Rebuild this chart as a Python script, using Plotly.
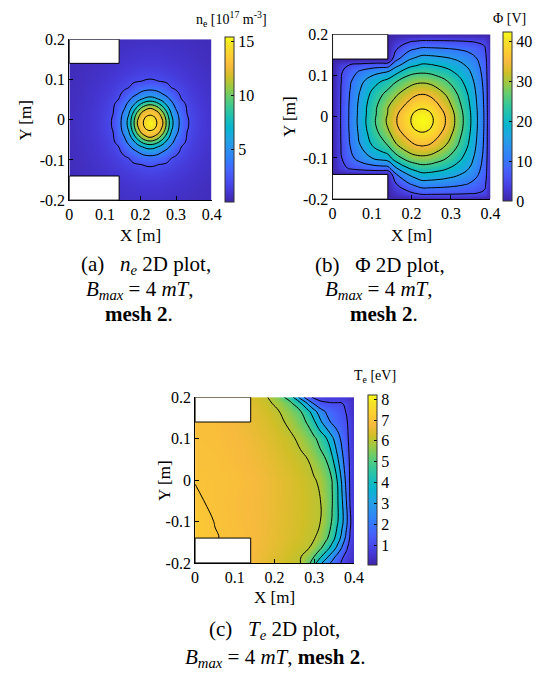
import plotly.graph_objects as go

# ---------------- data ----------------
# (a) electron density n_e [1e17 m^-3]; rows are named by their distance
#     from the density peak (same reading reused above and below the peak)
NE_X = [0, 0.037, 0.077, 0.107, 0.123, 0.139, 0.155, 0.167, 0.179, 0.191, 0.203, 0.215, 0.227,
        0.239, 0.251, 0.263, 0.275, 0.287, 0.299, 0.315, 0.331, 0.347, 0.377, 0.4]
NE_Y = [-0.2, -0.158, -0.128, -0.112, -0.096, -0.08, -0.068, -0.056, -0.044, -0.032, -0.02, -0.008,
        0.004, 0.016, 0.028, 0.04, 0.052, 0.064, 0.08, 0.096, 0.112, 0.142, 0.2]
NE_R000 = [0.61, 0.79, 1.13, 1.65, 2.15, 3.38, 4.94, 6.67, 9.33, 12.02, 13.6, 14.6, 15.4, 14.6, 13.6, 12.02, 9.33, 6.67, 4.94, 3.38, 2.15, 1.65, 1.13, 0.91]
NE_R012 = [0.61, 0.79, 1.13, 1.64, 2.1, 3.32, 4.83, 6.4, 9.0, 11.57, 13.22, 14.27, 14.6, 14.27, 13.22, 11.57, 9.0, 6.4, 4.83, 3.32, 2.1, 1.64, 1.13, 0.91]
NE_R024 = [0.61, 0.78, 1.11, 1.59, 1.98, 3.14, 4.48, 5.81, 8.07, 10.38, 12.27, 13.22, 13.6, 13.22, 12.27, 10.38, 8.07, 5.81, 4.48, 3.14, 1.98, 1.59, 1.11, 0.9]
NE_R036 = [0.6, 0.77, 1.08, 1.52, 1.9, 2.84, 3.96, 5.18, 6.67, 8.69, 10.38, 11.57, 12.02, 11.57, 10.38, 8.69, 6.67, 5.18, 3.96, 2.84, 1.9, 1.52, 1.08, 0.88]
NE_R048 = [0.59, 0.75, 1.03, 1.42, 1.79, 2.44, 3.5, 4.37, 5.43, 6.67, 8.07, 9.0, 9.33, 9.0, 8.07, 6.67, 5.43, 4.37, 3.5, 2.44, 1.79, 1.42, 1.03, 0.86]
NE_R060 = [0.58, 0.73, 0.99, 1.34, 1.65, 1.99, 2.94, 3.63, 4.37, 5.18, 5.81, 6.4, 6.67, 6.4, 5.81, 5.18, 4.37, 3.63, 2.94, 1.99, 1.65, 1.34, 0.99, 0.84]
NE_R072 = [0.57, 0.71, 0.96, 1.27, 1.49, 1.81, 2.32, 2.94, 3.5, 3.96, 4.48, 4.83, 4.94, 4.83, 4.48, 3.96, 3.5, 2.94, 2.32, 1.81, 1.49, 1.27, 0.96, 0.81]
NE_R088 = [0.55, 0.68, 0.9, 1.15, 1.32, 1.54, 1.81, 1.99, 2.44, 2.84, 3.14, 3.32, 3.38, 3.32, 3.14, 2.84, 2.44, 1.99, 1.81, 1.54, 1.32, 1.15, 0.9, 0.76]
NE_R104 = [0.52, 0.65, 0.84, 1.02, 1.17, 1.32, 1.49, 1.65, 1.79, 1.9, 1.98, 2.1, 2.15, 2.1, 1.98, 1.9, 1.79, 1.65, 1.49, 1.32, 1.17, 1.02, 0.84, 0.71]
NE_R120 = [0.5, 0.62, 0.78, 0.93, 1.02, 1.15, 1.27, 1.34, 1.42, 1.52, 1.59, 1.64, 1.65, 1.64, 1.59, 1.52, 1.42, 1.34, 1.27, 1.15, 1.02, 0.93, 0.78, 0.68]
NE_R150 = [0.46, 0.55, 0.67, 0.78, 0.84, 0.9, 0.96, 0.99, 1.03, 1.08, 1.11, 1.13, 1.13, 1.13, 1.11, 1.08, 1.03, 0.99, 0.96, 0.9, 0.84, 0.78, 0.67, 0.6]
NE_R192 = [0.39, 0.46, 0.55, 0.61, 0.65, 0.68, 0.7, 0.72, 0.73, 0.75, 0.77, 0.77, 0.78, 0.77, 0.77, 0.75, 0.73, 0.72, 0.7, 0.68, 0.65, 0.61, 0.55, 0.5]
NE_R208 = [0.37, 0.43, 0.5, 0.56, 0.59, 0.62, 0.64, 0.65, 0.67, 0.68, 0.68, 0.69, 0.69, 0.69, 0.68, 0.68, 0.67, 0.65, 0.64, 0.62, 0.59, 0.56, 0.5, 0.46]
NE_Z = [NE_R192, NE_R150, NE_R120, NE_R104, NE_R088, NE_R072, NE_R060, NE_R048, NE_R036, NE_R024, NE_R012,
        NE_R000,
        NE_R012, NE_R024, NE_R036, NE_R048, NE_R060, NE_R072, NE_R088, NE_R104, NE_R120, NE_R150, NE_R208]
NE_RANGE = [0.1, 15.4]
NE_CB_TICKS = [5, 10, 15]
NE_LEVELS = [2, 14, 2]

# (b) plasma potential Phi [V]
PHI_X = [0, 0.02, 0.045, 0.07, 0.1, 0.125, 0.14, 0.16, 0.195, 0.211, 0.227, 0.243, 0.26, 0.29, 0.32, 0.345, 0.365, 0.385, 0.4]
PHI_Y = [-0.2, -0.185, -0.165, -0.14, -0.125, -0.1, -0.07, -0.04, -0.025, -0.009, 0.007, 0.022, 0.055, 0.085, 0.11, 0.125, 0.14, 0.165, 0.185, 0.2]
PHI_Z = [
    [0, 0, 0, 0, 0, 0, 0, 0, 0, 0, 0, 0, 0, 0, 0, 0, 0, 0, 0],
    [0, 0, 0, 0, 0, 0, 0, 1.98, 4.17, 5.39, 6.5, 6.49, 6.43, 6.28, 6.02, 5.67, 5.15, 4.25, 0],
    [0, 0, 0, 0, 0, 0, 0, 4.4, 9.36, 10.86, 12.2, 12.14, 11.95, 11.44, 10.59, 9.56, 8.17, 6.11, 0],
    [0, 0, 0, 0, 0, 0, 0, 9.5, 15.6, 17.38, 18.9, 18.77, 18.32, 17.14, 15.31, 13.25, 10.72, 7.43, 0],
    [0, 3.43, 5.61, 6.81, 7.7, 8.13, 8.35, 14.35, 20.3, 21.82, 22.9, 22.7, 22.05, 20.36, 17.83, 15.09, 11.89, 7.98, 0],
    [0, 4.39, 8.71, 11.99, 15.05, 16.78, 17.74, 22.9, 27.66, 28.59, 28.9, 28.59, 27.56, 24.97, 21.28, 17.48, 13.33, 8.61, 0],
    [0, 4.72, 10.15, 14.91, 19.96, 23.12, 24.99, 29.25, 33.4, 34.74, 35.2, 34.74, 33.24, 29.54, 24.51, 19.61, 14.53, 9.09, 0],
    [0, 4.84, 10.73, 16.18, 22.3, 26.3, 28.76, 32.9, 37.4, 39.1, 39.7, 39.1, 37.22, 32.64, 26.6, 20.92, 15.25, 9.36, 0],
    [0, 4.88, 10.92, 16.61, 23.12, 27.47, 30.15, 34.15, 39.02, 40.88, 41.53, 40.88, 38.82, 33.87, 27.41, 21.42, 15.51, 9.46, 0],
    [0, 4.9, 11.0, 16.8, 23.5, 28.0, 30.8, 34.6, 39.6, 41.53, 42.2, 41.53, 39.4, 34.3, 27.7, 21.6, 15.6, 9.5, 0],
    [0, 4.88, 10.92, 16.61, 23.12, 27.47, 30.15, 34.15, 39.02, 40.88, 41.53, 40.88, 38.82, 33.87, 27.41, 21.42, 15.51, 9.46, 0],
    [0, 4.88, 10.88, 16.53, 22.96, 27.25, 29.88, 32.84, 37.3, 39.01, 39.6, 39.01, 37.13, 32.57, 26.56, 20.9, 15.23, 9.36, 0],
    [0, 4.78, 10.44, 15.54, 21.09, 24.65, 26.78, 29.25, 33.1, 34.44, 34.9, 34.44, 32.97, 29.33, 24.36, 19.51, 14.48, 9.07, 0],
    [0, 4.6, 9.6, 13.74, 17.9, 20.4, 21.85, 24.82, 28.13, 29.08, 29.4, 29.08, 28.03, 25.35, 21.55, 17.67, 13.44, 8.65, 0],
    [0, 4.18, 7.94, 10.57, 12.88, 14.12, 14.8, 18.12, 23.23, 23.88, 24.1, 23.88, 23.16, 21.3, 18.55, 15.6, 12.21, 8.12, 0],
    [0, 3.36, 5.41, 6.52, 7.33, 7.72, 7.91, 13.48, 18.46, 19.65, 20.7, 20.54, 19.97, 18.6, 16.47, 14.1, 11.27, 7.7, 0],
    [0, 0, 0, 0, 0, 0, 0, 8.6, 14.65, 16.0, 17.3, 17.19, 16.81, 15.81, 14.25, 12.44, 10.18, 7.17, 0],
    [0, 0, 0, 0, 0, 0, 0, 4.4, 8.88, 9.86, 10.8, 10.75, 10.6, 10.2, 9.52, 8.68, 7.52, 5.74, 0],
    [0, 0, 0, 0, 0, 0, 0, 1.98, 4.17, 4.59, 4.98, 4.97, 4.96, 4.87, 4.71, 4.49, 4.16, 3.55, 0],
    [0, 0, 0, 0, 0, 0, 0, 0, 0, 0, 0, 0, 0, 0, 0, 0, 0, 0, 0],
]
PHI_RANGE = [0, 42.2]
PHI_CB_TICKS = [0, 10, 20, 30, 40]
PHI_LEVELS = [5, 40, 5]

# (c) electron temperature T_e [eV]
TE_X = [0, 0.05, 0.1, 0.14, 0.18, 0.21, 0.24, 0.265, 0.285, 0.3, 0.315, 0.33, 0.345, 0.358, 0.37, 0.38, 0.39, 0.4]
TE_Y = [-0.2, -0.185, -0.165, -0.14, -0.1, -0.05, 0, 0.05, 0.1, 0.14, 0.165, 0.185, 0.2]
TE_Z = [
    [7.1, 6.98, 6.9, 6.75, 6.51, 6.36, 6.18, 6.01, 5.27, 4.38, 3.23, 2.45, 1.8, 1.28, 0.89, 0.68, 0.47, 0.25],
    [7.1, 6.98, 6.9, 6.76, 6.53, 6.38, 6.21, 6.05, 5.54, 4.98, 4.17, 3.29, 2.41, 1.7, 1.1, 0.8, 0.55, 0.3],
    [7.1, 6.98, 6.9, 6.78, 6.58, 6.45, 6.3, 6.16, 6.03, 5.64, 5.11, 4.4, 3.56, 2.71, 1.86, 1.14, 0.71, 0.35],
    [7.15, 7.02, 6.92, 6.8, 6.62, 6.5, 6.37, 6.24, 6.13, 6.04, 5.7, 5.2, 4.44, 3.57, 2.67, 1.8, 0.91, 0.45],
    [7.15, 6.99, 6.87, 6.78, 6.64, 6.53, 6.4, 6.28, 6.18, 6.09, 6.01, 5.5, 4.94, 4.13, 3.23, 2.36, 1.14, 0.45],
    [7.04, 6.95, 6.86, 6.77, 6.65, 6.54, 6.41, 6.29, 6.19, 6.1, 6.02, 5.57, 5.04, 4.14, 3.09, 2.1, 0.95, 0.45],
    [6.99, 6.96, 6.9, 6.8, 6.66, 6.54, 6.4, 6.27, 6.15, 6.06, 5.86, 5.43, 4.98, 3.98, 2.8, 1.8, 0.91, 0.45],
    [6.95, 6.92, 6.83, 6.72, 6.57, 6.43, 6.28, 6.13, 5.99, 5.67, 5.33, 4.98, 4.17, 3.17, 2.23, 1.5, 0.87, 0.45],
    [6.92, 6.89, 6.78, 6.65, 6.47, 6.31, 6.12, 5.86, 5.45, 5.14, 4.68, 4.08, 3.19, 2.41, 1.75, 1.25, 0.8, 0.4],
    [6.9, 6.86, 6.73, 6.57, 6.36, 6.16, 5.84, 5.34, 4.86, 4.14, 3.2, 2.4, 1.85, 1.57, 1.32, 1.11, 0.78, 0.35],
    [6.9, 6.85, 6.71, 6.52, 6.27, 6.04, 5.55, 5.09, 4.25, 3.33, 2.5, 1.91, 1.64, 1.4, 1.18, 0.98, 0.6, 0.3],
    [6.9, 6.84, 6.68, 6.46, 6.17, 5.8, 5.2, 4.17, 2.81, 1.85, 1.2, 1.1, 1.05, 1.05, 1.02, 0.85, 0.55, 0.3],
    [6.9, 6.83, 6.64, 6.38, 6.05, 5.47, 4.5, 2.62, 1.29, 0.8, 0.7, 0.65, 0.6, 0.6, 0.55, 0.5, 0.4, 0.25],
]
TE_RANGE = [0.04, 8.2]
TE_CB_TICKS = [1, 2, 3, 4, 5, 6, 7, 8]
TE_LEVELS = [1, 7, 1]

X_TICKS = [0, 0.1, 0.2, 0.3, 0.4]
X_TICK_TEXT = ["0", "0.1", "0.2", "0.3", "0.4"]
Y_TICKS = [-0.2, -0.1, 0, 0.1, 0.2]
Y_TICK_TEXT = ["-0.2", "-0.1", "0", "0.1", "0.2"]

# electrode (hole) geometry of the domain
ELEC_W = 0.14
ELEC_Y = 0.14
DOM_X = [0, 0.4]
DOM_Y = [-0.2, 0.2]

# ---------------- style ----------------
W, H = 558, 688
FONT = "Liberation Serif"

def PX(x):
    return x / W

def PY(y):
    return 1 - y / H

_par = [
    (0, (62, 38, 168)), (4, (69, 55, 213)), (8, (72, 77, 240)), (12, (69, 99, 253)),
    (16, (50, 124, 252)), (20, (43, 145, 239)), (24, (32, 165, 227)), (28, (8, 181, 208)),
    (32, (25, 191, 182)), (36, (55, 200, 151)), (40, (100, 205, 111)), (44, (157, 201, 67)),
    (48, (209, 191, 39)), (52, (248, 186, 61)), (56, (252, 207, 48)), (60, (245, 227, 39)),
    (63, (249, 251, 21)),
]
PARULA = [[i / 63, "rgb(%d,%d,%d)" % c] for i, c in _par]

fig = go.Figure()

panels = [
    dict(sfx="", xs=NE_X, ys=NE_Y, z=NE_Z, rng=NE_RANGE, cbt=NE_CB_TICKS, lev=NE_LEVELS,
         px=(67, 213), py=(32, 197), cbx=227),
    dict(sfx="2", xs=PHI_X, ys=PHI_Y, z=PHI_Z, rng=PHI_RANGE, cbt=PHI_CB_TICKS, lev=PHI_LEVELS,
         px=(337, 499), py=(27, 196), cbx=512),
    dict(sfx="3", xs=TE_X, ys=TE_Y, z=TE_Z, rng=TE_RANGE, cbt=TE_CB_TICKS, lev=TE_LEVELS,
         px=(196, 359), py=(399, 569), cbx=373),
]

tickfont = dict(family=FONT, size=16, color="black")
shapes = []
for p in panels:
    xa = "x" + p["sfx"]
    ya = "y" + p["sfx"]
    fig.add_trace(go.Heatmap(
        x=p["xs"], y=p["ys"], z=p["z"], zsmooth="best", colorscale=PARULA,
        zmin=p["rng"][0], zmax=p["rng"][1], xaxis=xa, yaxis=ya, hoverinfo="skip",
        colorbar=dict(
            x=PX(p["cbx"]), xanchor="left", xpad=0,
            y=PY((p["py"][0] + p["py"][1]) / 2), yanchor="middle", ypad=0,
            len=p["py"][1] - p["py"][0], lenmode="pixels",
            thickness=9, thicknessmode="pixels",
            tickvals=p["cbt"], ticktext=[str(v) for v in p["cbt"]],
            ticks="inside", ticklen=3, tickcolor="black", tickwidth=1,
            tickfont=tickfont, outlinewidth=1, outlinecolor="#333",
        ),
    ))
    fig.add_trace(go.Contour(
        x=p["xs"], y=p["ys"], z=p["z"], xaxis=xa, yaxis=ya, autocontour=False,
        contours=dict(start=p["lev"][0], end=p["lev"][1], size=p["lev"][2], coloring="none"),
        line=dict(color="black", width=1, smoothing=1.3), showscale=False, hoverinfo="skip",
    ))
    axkw = dict(showline=True, linecolor="black", linewidth=1, ticks="inside", ticklen=4,
                tickcolor="black", tickwidth=1, tickfont=tickfont, showgrid=False,
                zeroline=False, fixedrange=True)
    fig.update_layout(**{
        "xaxis" + p["sfx"]: dict(domain=[PX(p["px"][0]), PX(p["px"][1])], range=DOM_X,
                                 anchor=ya, tickvals=X_TICKS, ticktext=X_TICK_TEXT, **axkw),
        "yaxis" + p["sfx"]: dict(domain=[PY(p["py"][1]), PY(p["py"][0])], range=DOM_Y,
                                 anchor=xa, tickvals=Y_TICKS, ticktext=Y_TICK_TEXT, **axkw),
    })
    for (y0, y1) in [(ELEC_Y, DOM_Y[1]), (DOM_Y[0], -ELEC_Y)]:
        shapes.append(dict(type="rect", xref=xa, yref=ya, x0=DOM_X[0], x1=ELEC_W, y0=y0, y1=y1,
                           fillcolor="white", line=dict(color="black", width=1), layer="above"))

ann = []
def text(x, y, s, size=17, angle=0, xanchor="center"):
    ann.append(dict(x=PX(x), y=PY(y), xref="paper", yref="paper", text=s, showarrow=False,
                    xanchor=xanchor, yanchor="middle", textangle=angle,
                    font=dict(family=FONT, size=size, color="black")))

# axis titles
text(140, 233, "X [m]")
text(22, 115, "Y [m]", angle=-90)
text(418, 233, "X [m]")
text(293, 112, "Y [m]", angle=-90)
text(277, 604, "X [m]")
text(164, 485, "Y [m]", angle=-90)
# colorbar titles
text(272, 11, "n<sub>e</sub> [10<sup>17</sup> m<sup>-3</sup>]", size=14, xanchor="right")
text(518, 11, "Φ [V]", size=14)
text(381, 378, "T<sub>e</sub> [eV]", size=14)
# captions
CAP = 21
text(146, 264, "(a)&nbsp;&nbsp;&nbsp;<i>n</i><sub><i>e</i></sub> 2D plot,", size=CAP)
text(140, 289, "<i>B</i><sub><i>max</i></sub> = 4 <i>mT</i>,", size=CAP)
text(138, 314, "<b>mesh 2</b>.", size=CAP)
text(386, 264, "(b)&nbsp;&nbsp;&nbsp;Φ 2D plot,", size=CAP)
text(385, 289, "<i>B</i><sub><i>max</i></sub> = 4 <i>mT</i>,", size=CAP)
text(390, 314, "<b>mesh 2</b>.", size=CAP)
text(277, 638, "(c)&nbsp;&nbsp;&nbsp;<i>T</i><sub><i>e</i></sub> 2D plot,", size=CAP)
text(278, 666, "<i>B</i><sub><i>max</i></sub> = 4 <i>mT</i>, <b>mesh 2</b>.", size=CAP)

fig.update_layout(width=W, height=H, margin=dict(l=0, r=0, t=0, b=0),
                  paper_bgcolor="white", plot_bgcolor="white", showlegend=False,
                  shapes=shapes, annotations=ann)

fig.write_html("out.html")
